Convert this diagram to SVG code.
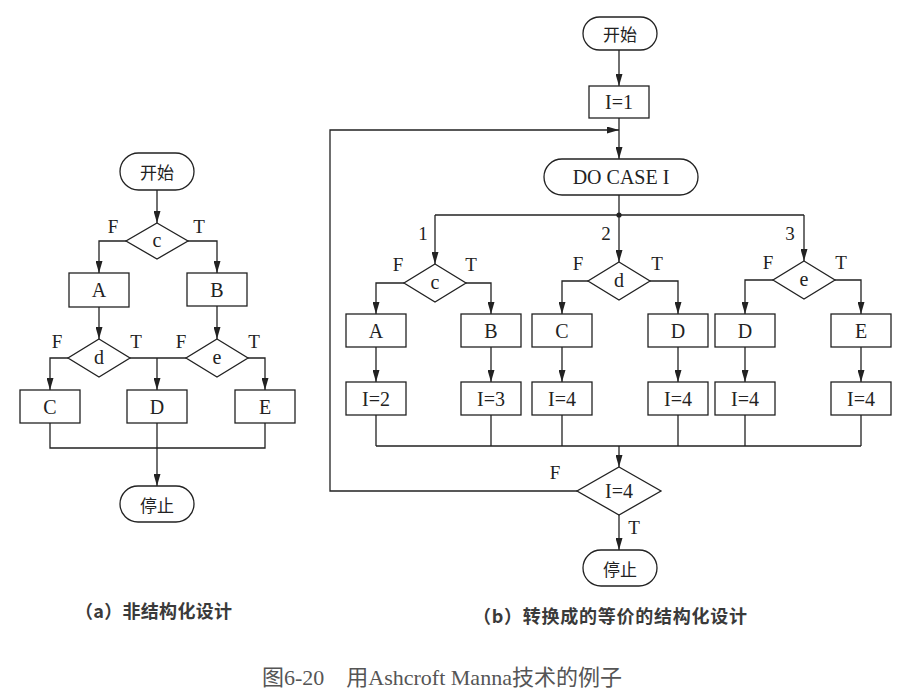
<svg xmlns="http://www.w3.org/2000/svg" width="901" height="694" viewBox="0 0 901 694">
<defs>
<marker id="ah" markerUnits="userSpaceOnUse" markerWidth="12" markerHeight="7" refX="12" refY="3.5" orient="auto">
<path d="M0,0 L12,3.5 L0,7 z" fill="#222"/>
</marker>
<style>
.s{fill:#fff;stroke:#222;stroke-width:1.3}
.c{fill:none;stroke:#222;stroke-width:1.3}
.a{marker-end:url(#ah)}
.t{font-family:"Liberation Serif","Noto Sans CJK SC",serif;font-size:20px;fill:#222;text-anchor:middle;dominant-baseline:central}
.z{font-family:"Noto Sans CJK SC",sans-serif;font-size:17px;fill:#222;text-anchor:middle;dominant-baseline:central}
.l{font-family:"Liberation Serif",serif;font-size:19px;fill:#222;text-anchor:middle;dominant-baseline:central}
.cap{font-family:"Noto Sans CJK SC",sans-serif;font-size:18px;font-weight:bold;fill:#3a3a3a}
.ttl{font-family:"Liberation Serif","Noto Sans CJK SC",serif;font-size:22px;fill:#555}
</style>
</defs>
<rect width="901" height="694" fill="#fff"/>

<g id="connectors">
<!-- left diagram -->
<path class="c a" d="M157,190 V223"/>
<path class="c a" d="M126,241 H99 V273"/>
<path class="c a" d="M188,241 H217 V273"/>
<path class="c a" d="M99,307 V339"/>
<path class="c a" d="M217,306 V339"/>
<path class="c a" d="M68,358 H50 V390"/>
<path class="c" d="M130,358 H186"/>
<path class="c a" d="M157,358 V390"/>
<path class="c a" d="M248,358 H265 V390"/>
<path class="c" d="M50,423 V448 H265 V423"/>
<path class="c a" d="M157,423 V486"/>
<!-- right diagram -->
<path class="c a" d="M619,50 V86"/>
<path class="c a" d="M619,118 V159"/>
<path class="c a" d="M577,491 H330 V130 H619"/>
<path class="c" d="M619,195 V215"/>
<path class="c" d="M435,215 H804"/>
<circle cx="619" cy="215" r="2.6" fill="#222"/>
<path class="c a" d="M435,215 V264"/>
<path class="c a" d="M619,215 V262"/>
<path class="c a" d="M804,215 V261"/>
<path class="c a" d="M404,283 H376 V314"/>
<path class="c a" d="M466,283 H491 V314"/>
<path class="c a" d="M588,281 H562 V314"/>
<path class="c a" d="M650,281 H678 V314"/>
<path class="c a" d="M773,280 H745 V314"/>
<path class="c a" d="M835,280 H861 V314"/>
<path class="c a" d="M376,347 V382"/>
<path class="c a" d="M491,347 V382"/>
<path class="c a" d="M562,347 V382"/>
<path class="c a" d="M678,347 V382"/>
<path class="c a" d="M745,347 V382"/>
<path class="c a" d="M861,347 V382"/>
<path class="c" d="M376,415 V446 M491,415 V446 M562,415 V446 M678,415 V446 M745,415 V446 M861,415 V446 M376,446 H861"/>
<path class="c a" d="M619,446 V467"/>
<path class="c a" d="M619,515 V550"/>
</g>

<!-- left diagram nodes -->
<g id="a-start"><rect class="s" x="120" y="153" width="74" height="37" rx="18.5"/><text class="z" x="157" y="171.5">开始</text></g>
<g id="a-c"><polygon class="s" points="157,223 188,241 157,259 126,241"/><text class="t" x="157" y="240">c</text></g>
<g id="a-labels-c"><text class="l" x="113" y="226">F</text><text class="l" x="199" y="226">T</text></g>
<g id="a-A"><rect class="s" x="69" y="273" width="60" height="34"/><text class="t" x="99" y="290">A</text></g>
<g id="a-B"><rect class="s" x="187" y="273" width="60" height="33"/><text class="t" x="217" y="289.5">B</text></g>
<g id="a-d"><polygon class="s" points="99,339 130,358 99,377 68,358"/><text class="t" x="99" y="357">d</text></g>
<g id="a-e"><polygon class="s" points="217,339 248,358 217,377 186,358"/><text class="t" x="217" y="357">e</text></g>
<g id="a-labels-de"><text class="l" x="57" y="341">F</text><text class="l" x="136" y="341">T</text><text class="l" x="181" y="341">F</text><text class="l" x="254" y="341">T</text></g>
<g id="a-C"><rect class="s" x="20" y="390" width="60" height="33"/><text class="t" x="50" y="406.5">C</text></g>
<g id="a-D"><rect class="s" x="127" y="390" width="60" height="33"/><text class="t" x="157" y="406.5">D</text></g>
<g id="a-E"><rect class="s" x="235" y="390" width="60" height="33"/><text class="t" x="265" y="406.5">E</text></g>
<g id="a-stop"><rect class="s" x="120" y="486" width="74" height="36" rx="18"/><text class="z" x="157" y="504">停止</text></g>

<!-- right diagram nodes -->
<g id="b-start"><rect class="s" x="583" y="17" width="74" height="33" rx="16.5"/><text class="z" x="620" y="33.5">开始</text></g>
<g id="b-i1"><rect class="s" x="589" y="86" width="60" height="32"/><text class="t" x="619" y="102">I=1</text></g>
<g id="b-docase"><rect class="s" x="544" y="159" width="154" height="36" rx="18"/><text class="t" x="621" y="177">DO CASE I</text></g>
<g id="b-case-labels"><text class="l" x="423" y="233">1</text><text class="l" x="606" y="233">2</text><text class="l" x="790" y="233">3</text></g>
<g id="b-c"><polygon class="s" points="435,264 466,283 435,302 404,283"/><text class="t" x="435" y="282">c</text></g>
<g id="b-d"><polygon class="s" points="619,262 650,281 619,300 588,281"/><text class="t" x="619" y="280">d</text></g>
<g id="b-e"><polygon class="s" points="804,261 835,280 804,299 773,280"/><text class="t" x="804" y="279">e</text></g>
<g id="b-tf-labels"><text class="l" x="398" y="264">F</text><text class="l" x="471" y="264">T</text><text class="l" x="578" y="263">F</text><text class="l" x="657" y="263">T</text><text class="l" x="768" y="262">F</text><text class="l" x="841" y="262">T</text></g>
<g id="b-A"><rect class="s" x="346" y="314" width="60" height="33"/><text class="t" x="376" y="330.5">A</text></g>
<g id="b-B"><rect class="s" x="461" y="314" width="60" height="33"/><text class="t" x="491" y="330.5">B</text></g>
<g id="b-C"><rect class="s" x="532" y="314" width="60" height="33"/><text class="t" x="562" y="330.5">C</text></g>
<g id="b-D1"><rect class="s" x="648" y="314" width="60" height="33"/><text class="t" x="678" y="330.5">D</text></g>
<g id="b-D2"><rect class="s" x="715" y="314" width="60" height="33"/><text class="t" x="745" y="330.5">D</text></g>
<g id="b-E"><rect class="s" x="831" y="314" width="60" height="33"/><text class="t" x="861" y="330.5">E</text></g>
<g id="b-i2"><rect class="s" x="346" y="382" width="60" height="33"/><text class="t" x="376" y="398.5">I=2</text></g>
<g id="b-i3"><rect class="s" x="461" y="382" width="60" height="33"/><text class="t" x="491" y="398.5">I=3</text></g>
<g id="b-i4a"><rect class="s" x="532" y="382" width="60" height="33"/><text class="t" x="562" y="398.5">I=4</text></g>
<g id="b-i4b"><rect class="s" x="648" y="382" width="60" height="33"/><text class="t" x="678" y="398.5">I=4</text></g>
<g id="b-i4c"><rect class="s" x="715" y="382" width="60" height="33"/><text class="t" x="745" y="398.5">I=4</text></g>
<g id="b-i4d"><rect class="s" x="831" y="382" width="60" height="33"/><text class="t" x="861" y="398.5">I=4</text></g>
<g id="b-test"><polygon class="s" points="619,467 661,491 619,515 577,491"/><text class="t" x="619" y="491">I=4</text></g>
<g id="b-test-labels"><text class="l" x="555" y="472">F</text><text class="l" x="634" y="527">T</text></g>
<g id="b-stop"><rect class="s" x="583" y="550" width="74" height="36" rx="18"/><text class="z" x="620" y="568">停止</text></g>

<g id="captions">
<text class="cap" x="75" y="618" textLength="157" lengthAdjust="spacing">（a）非结构化设计</text>
<text class="cap" x="473" y="623" textLength="274" lengthAdjust="spacing">（b）转换成的等价的结构化设计</text>
<text class="ttl" x="262" y="685">图6-20　用Ashcroft Manna技术的例子</text>
</g>
</svg>
